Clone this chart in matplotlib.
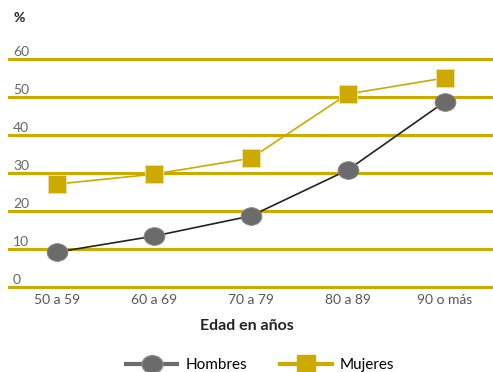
import matplotlib.pyplot as plt
from matplotlib.lines import Line2D
from matplotlib.path import Path
from matplotlib.transforms import Affine2D

plt.rcParams['font.family'] = ['Lato', 'DejaVu Sans']

# datos
categorias = ['50 a 59', '60 a 69', '70 a 79', '80 a 89', '90 o más']
hombres = [9.2, 13.4, 18.7, 30.8, 48.7]
mujeres = [27.1, 29.7, 33.9, 50.8, 55.0]
ticks_y = [0, 10, 20, 30, 40, 50, 60]

ORO = '#ccaa00'
GRIS = '#6b6b6b'
# marcador eliptico (mas ancho que alto)
elipse = Path.unit_circle().transformed(Affine2D().scale(1.0, 0.85))

W, H = 493, 372
fig = plt.figure(figsize=(W / 100, H / 100), dpi=100)
ax = fig.add_axes([9 / W, 85 / H, 484 / W, 228 / H])
ax.set_xlim(-0.5, len(categorias) - 0.5)
ax.set_ylim(0, 60)
ax.axis('off')

for v in ticks_y:
    ax.axhline(v, color=ORO, lw=2.2, clip_on=False, zorder=1)
    ax.annotate(str(v), (0, v), xycoords=('figure fraction', 'data'),
                xytext=(13, 1), textcoords='offset pixels',
                ha='left', va='bottom', fontsize=10, color='#666666')

x = range(len(categorias))
ax.plot(x, mujeres, color=ORO, lw=1.2, marker='s', ms=13.5,
        mfc=ORO, mec='#f0e0a0', mew=0.6, clip_on=False, zorder=3)
ax.plot(x, hombres, color='#222222', lw=1.2, marker=elipse, ms=15,
        mfc=GRIS, mec='#8a8a8a', mew=0.6, clip_on=False, zorder=3)

for i, c in enumerate(categorias):
    ax.annotate(c, (i, 0), xycoords='data', xytext=(0, -7),
                textcoords='offset pixels', ha='center', va='top',
                fontsize=10, color='#555555')

fig.text(13 / W, 1 - 18 / H, '%', fontsize=10, fontweight='bold',
         color='#222222', va='center', ha='left')
fig.text(247 / W, 1 - 326 / H, 'Edad en años', fontsize=11.5,
         fontweight='bold', color='#222222', ha='center', va='center')

h1 = Line2D([], [], color=GRIS, lw=3, marker=elipse, ms=15, mfc=GRIS, mec='#8a8a8a')
h2 = Line2D([], [], color=ORO, lw=3, marker='s', ms=13.5, mfc=ORO, mec=ORO)
fig.legend([h1, h2], ['Hombres', 'Mujeres'], loc='center',
           bbox_to_anchor=(260 / W, 1 - 365 / H), ncol=2, frameon=False,
           fontsize=11, handlelength=3.4, columnspacing=2.2, handletextpad=0.5)

fig.savefig('out.png', dpi=100)
